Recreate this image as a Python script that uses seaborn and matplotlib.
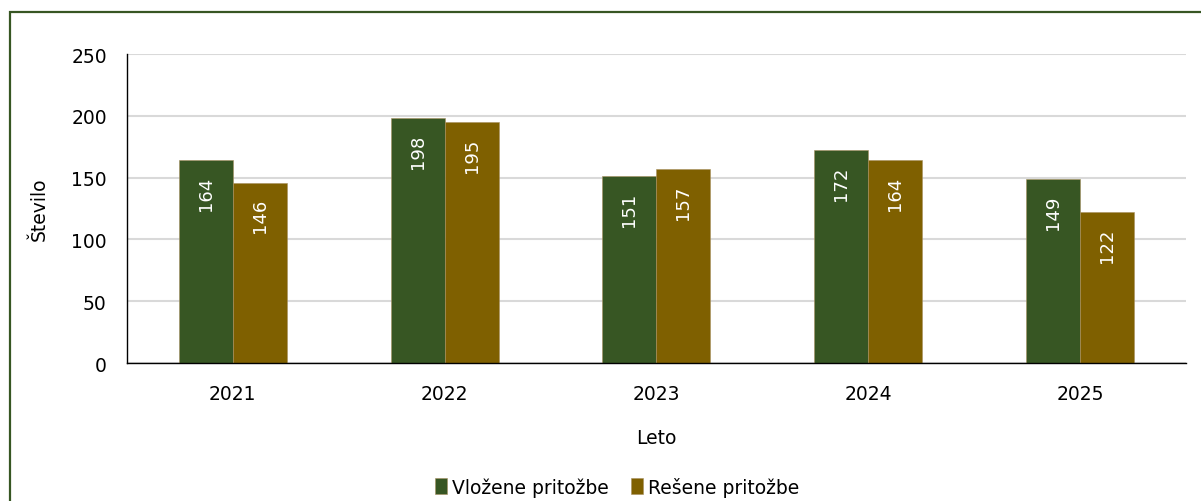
"""Bar chart: vložene in rešene pritožbe po letih."""

import pandas as pd
import matplotlib
matplotlib.use("Agg")
import matplotlib.pyplot as plt
import seaborn as sns
from matplotlib.patches import Rectangle

# ---- data ----
years = ["2021", "2022", "2023", "2024", "2025"]
vlozene = [164, 198, 151, 172, 149]
resene = [146, 195, 157, 164, 122]
series_names = ["Vložene pritožbe", "Rešene pritožbe"]
y_ticks = [0, 50, 100, 150, 200, 250]

GREEN = "#375623"
BROWN = "#7F6000"

df = pd.DataFrame({
    "Leto": years * 2,
    "Število": vlozene + resene,
    "Serija": [series_names[0]] * len(years) + [series_names[1]] * len(years),
})

sns.set_style("white")
plt.rcParams["font.family"] = ["DejaVu Sans"]
plt.rcParams["font.size"] = 13.5
for key in ["text.color", "axes.labelcolor", "xtick.color", "ytick.color"]:
    plt.rcParams[key] = "black"

fig = plt.figure(figsize=(12.01, 5.02), dpi=100)
ax = fig.add_axes([0.1057, 0.2749, 0.8818, 0.6155])

sns.barplot(data=df, x="Leto", y="Število", hue="Serija",
            palette=[GREEN, BROWN], width=0.51, gap=0, saturation=1,
            edgecolor="#a89060", linewidth=0.4, ax=ax)

# value labels inside bars, rotated
for cont in ax.containers:
    for bar in cont:
        h = bar.get_height()
        ax.annotate(f"{h:.0f}", (bar.get_x() + bar.get_width() / 2, h),
                    xytext=(0, -11), textcoords="offset points",
                    rotation=90, ha="center", va="top",
                    color="white", fontsize=13)

ax.set_ylim(0, 250)
ax.set_yticks(y_ticks)
ax.set_xlim(-0.5, len(years) - 0.5)
ax.yaxis.grid(True, color="#D9D9D9", linewidth=1.5)
ax.set_axisbelow(True)
for side in ["top", "right"]:
    ax.spines[side].set_visible(False)
ax.spines["left"].set_color("black")
ax.spines["bottom"].set_color("black")
ax.spines["left"].set_linewidth(1.0)
ax.spines["bottom"].set_linewidth(1.0)
ax.tick_params(axis="y", length=3, pad=11.5, labelsize=13.5)
ax.tick_params(axis="x", length=0, pad=15, labelsize=13.5)
ax.set_ylabel("Število", fontsize=13.5, labelpad=16)
ax.set_xlabel("Leto", fontsize=13.5, labelpad=18)

sns.move_legend(ax, "center", bbox_to_anchor=(0.463, -0.4), ncol=2,
                frameon=False, title=None, fontsize=13.5,
                handlelength=0.65, handleheight=0.9, handletextpad=0.25,
                columnspacing=1.2)

# outer frame of the chart box
fig.patches.append(Rectangle((10 / 1201, -0.1), 1.2, 1.1 - 13 / 502,
                             transform=fig.transFigure, fill=False,
                             edgecolor=GREEN, linewidth=1.6))

fig.savefig("out.png", dpi=100)
plt.close(fig)
